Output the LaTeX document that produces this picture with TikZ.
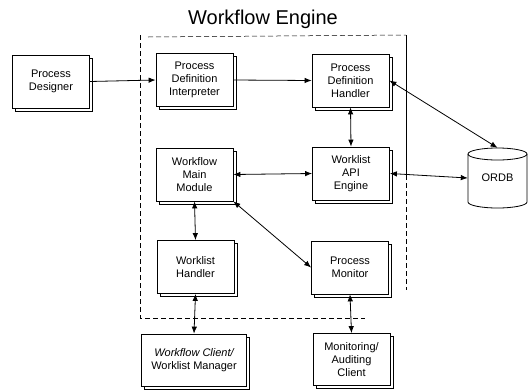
\documentclass[tikz,border=0pt]{standalone}
\usepackage{fontspec}
\setmainfont{Liberation Sans}
\usetikzlibrary{arrows.meta,shadows}
\begin{document}
\begin{tikzpicture}[x=1pt,y=-1pt,
  box/.style={draw=black, line width=0.8pt, fill=white, align=center,
    minimum width=77pt, minimum height=53pt, inner sep=1pt,
    font=\fontsize{11}{13}\selectfont,
    copy shadow={shadow xshift=3pt, shadow yshift=-3pt, draw=black, fill=white, line width=0.6pt}},
  tip/.style={Latex[length=7pt,width=5.5pt]},
  link/.style={line width=0.8pt, {Latex[length=7pt,width=5.5pt]}-{Latex[length=7pt,width=5.5pt]}},
  onelink/.style={line width=0.8pt, -{Latex[length=7pt,width=5.5pt]}},
  bound/.style={line width=0.7pt, dash pattern=on 5pt off 3pt}]
\useasboundingbox (0,0) rectangle (530,389);

\node[font=\fontsize{20}{24}\selectfont] (title) at (263,19) {Workflow Engine};

% boundary of the workflow engine
\coordinate (bl1) at (140,35);
\coordinate (bl2) at (140,318);
\coordinate (br1) at (406,35);
\coordinate (br2) at (406,175);
\coordinate (br3) at (406,290);
\coordinate (bb2) at (365,318);
\coordinate (bt1) at (148,37);
\draw[bound] (bl1) -- (bl2) -- (bb2);
\draw[bound, line width=0.5pt] (bt1) -- (br1);
\draw[line width=0.8pt] (br1) -- (br2);
\draw[bound] (br2) -- (br3);

\node[box] (pd)  at (51,81.5)   {Process\\Designer};
\node[box] (pdi) at (194.5,80)  {Process\\Definition\\Interpreter};
\node[box] (pdh) at (350.5,80.5){Process\\Definition\\Handler};
\node[box] (wmm) at (194.5,174.5){Workflow\\Main\\Module};
\node[box] (api) at (351,173.5) {Worklist\\API\\Engine};
\node[box] (wh)  at (195.5,267) {Worklist\\Handler};
\node[box] (pm)  at (350,267.5) {Process\\Monitor};
\node[box, minimum width=105pt, minimum height=52pt] (wc) at (194,360) {\itshape Workflow Client/\\Worklist Manager};
\node[box, minimum height=52pt] (mac) at (351.5,359.5) {Monitoring/\\Auditing\\Client};

% ORDB cylinder
\draw[line width=0.8pt, fill=white] (468,154) -- (468,202)
  arc[start angle=180, end angle=360, x radius=29.5pt, y radius=6pt] -- (527,154);
\draw[line width=0.8pt] (497.5,154) ellipse [x radius=29.5pt, y radius=6pt];
\node[minimum width=59pt, minimum height=60pt, inner sep=0pt, font=\fontsize{11}{13}\selectfont] (ordb) at (497.5,178) {ORDB};

% connectors
\draw[onelink] (pd.east) -- (pdi.west);
\draw[onelink] (pdi.east) -- (pdh.west);
\draw[link] (pdh.south) -- (api.north);
\draw[link] (pdh.east) -- (ordb.north);
\draw[link] (wmm.east) -- (api.west);
\draw[link] (api.east) -- (ordb.west);
\draw[link] (wmm.south) -- (wh.north);
\draw[link] (wmm.south east) -- (pm.west);
\draw[link] (wh.south) -- (wc.north);
\draw[link] (pm.south) -- (mac.north);
\end{tikzpicture}
\end{document}
